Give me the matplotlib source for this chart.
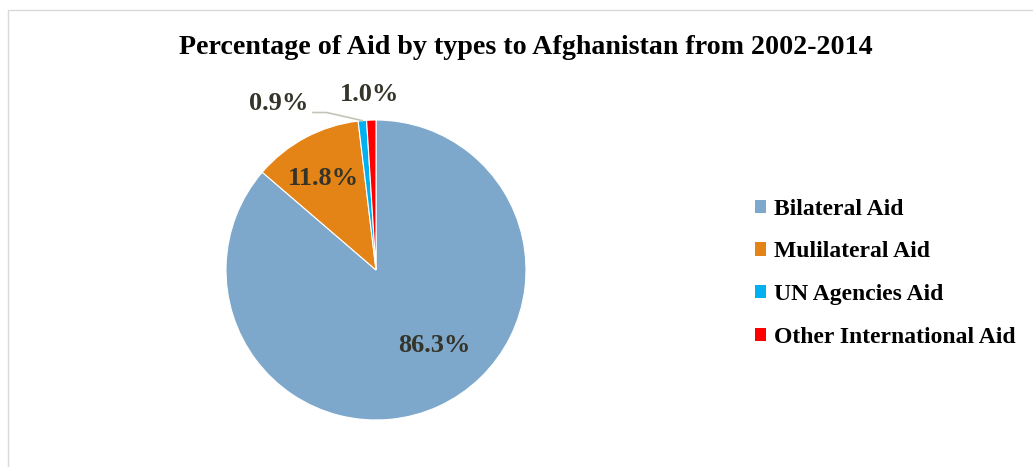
import numpy as np
import matplotlib.pyplot as plt
from matplotlib.patches import Patch, Rectangle

# Datos del grafico
tipos = ["Bilateral Aid", "Mulilateral Aid", "UN Agencies Aid", "Other International Aid"]
porcentajes = [86.3, 11.8, 0.9, 1.0]
colores = ["#7EA8CB", "#E48416", "#00B0F0", "#FF0000"]
etiquetas = ["86.3%", "11.8%", "0.9%", "1.0%"]

plt.rcParams['font.family'] = ['Liberation Serif', 'DejaVu Serif']

fig = plt.figure(figsize=(10.33, 4.67), dpi=100)

# marco gris claro
fig.patches.append(Rectangle((8 / 1033, -0.05), 1.2, 1 - 10 / 467 + 0.05,
                             transform=fig.transFigure, fill=False,
                             edgecolor="#D9D9D9", linewidth=1))

ax = fig.add_axes([226 / 1033, 47 / 467, 300 / 1033, 300 / 467])
wedges, _ = ax.pie(porcentajes, colors=colores, startangle=90, counterclock=False,
                   radius=1, wedgeprops={"linewidth": 0.8, "edgecolor": "white"})
ax.set_xlim(-1, 1)
ax.set_ylim(-1, 1)
ax.set_aspect("equal")
ax.axis("off")

# posiciones de las etiquetas (en unidades del radio)
pos_etiquetas = [(0.39, -0.50), (-0.35, 0.61), (-0.65, 1.11), (-0.04, 1.17)]
color_txt = "#34342A"
for (x, y), txt in zip(pos_etiquetas, etiquetas):
    ax.text(x, y, txt, ha="center", va="center", fontsize=19,
            fontweight="bold", color=color_txt, clip_on=False)

# linea guia para 0.9%
ang = np.deg2rad(90 - 360 * (porcentajes[0] + porcentajes[1] + porcentajes[2] / 2) / 100)
ax.plot([-0.42, -0.33, 1.0 * np.cos(ang)], [1.05, 1.05, 1.0 * np.sin(ang)],
        color="#C4C4B8", linewidth=1.2, clip_on=False)

fig.text(0.509, 1 - 47 / 467, "Percentage of Aid by types to Afghanistan from 2002-2014",
         ha="center", va="center", fontsize=20.2, fontweight="bold")

handles = [Patch(facecolor=c, edgecolor="none") for c in colores]
fig.legend(handles, tipos, loc="center left", bbox_to_anchor=(0.710, 0.415),
           frameon=False, prop={"size": 17, "weight": "bold"},
           handlelength=0.5, handleheight=0.5, handletextpad=0.3,
           labelspacing=0.92)

fig.savefig("out.png", dpi=100)
